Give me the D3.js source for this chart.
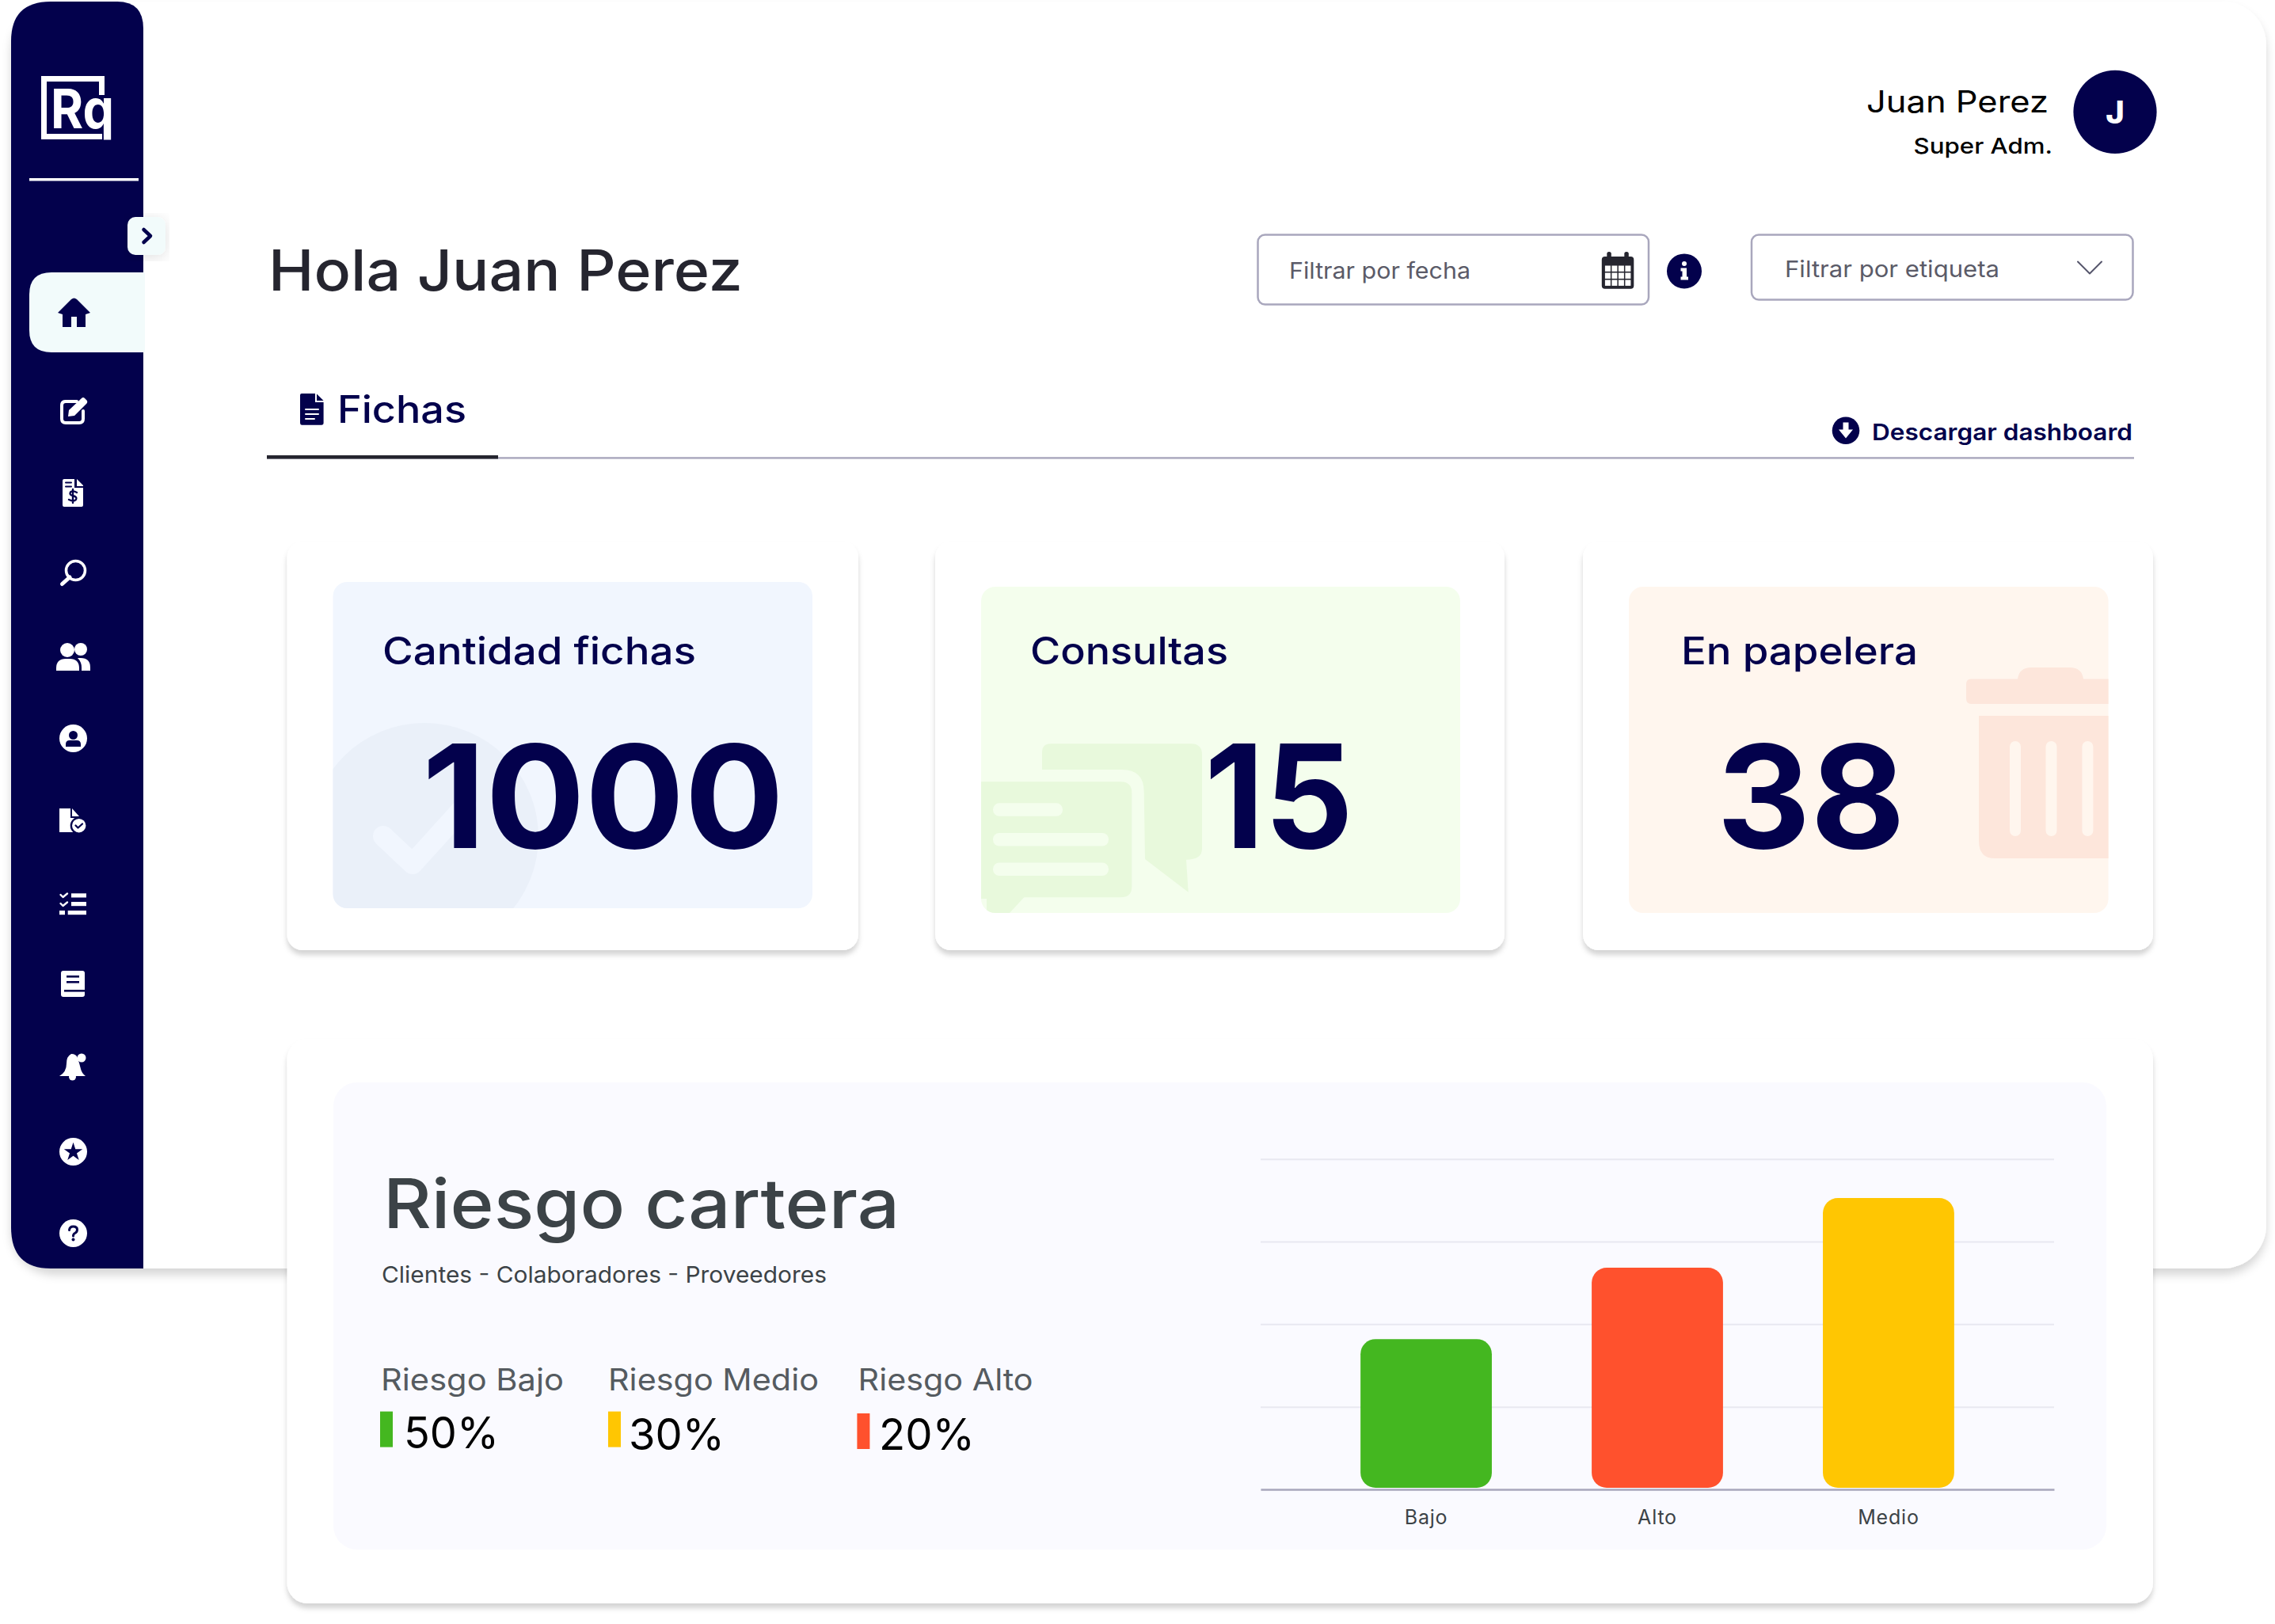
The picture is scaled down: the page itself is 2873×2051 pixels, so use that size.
<!DOCTYPE html>
<html>
<head>
<meta charset="utf-8">
<title>Dashboard</title>
<script src="https://cdn.jsdelivr.net/npm/d3@7"></script>
<style>
  html, body { margin: 0; padding: 0; background: #fff; }
  svg { display: block; }
  text { font-family: Inter, "Noto Sans", sans-serif; }
</style>
</head>
<body>
<div id="dashboard"></div>
<script>
var riskCategories = ["Bajo", "Alto", "Medio"];
var riskValues = [45.5, 67.1, 88.2];
var riskTicks = [0, 25, 50, 75, 100];
var riskColors = ["#44b720", "#ff512d", "#ffc602"];

var legendCategories = ["Bajo", "Medio", "Alto"];
var legendShares = [50, 30, 20];

var kpiLabels = ["Cantidad fichas", "Consultas", "En papelera"];
var kpiValues = [1000, 15, 38];

var navy = "#03014c", line = "#a9a7bd", slate = "#3c4347";

var svg = d3.select("#dashboard").append("svg")
    .attr("width", 2873)
    .attr("height", 2051);

var defs = svg.append("defs");

function shadow(id, dy, blur, alpha) {
    var f = defs.append("filter").attr("id", id)
        .attr("x", "-10%").attr("y", "-10%").attr("width", "120%").attr("height", "125%");
    f.append("feDropShadow")
        .attr("dx", 0).attr("dy", dy).attr("stdDeviation", blur)
        .attr("flood-color", "#000").attr("flood-opacity", alpha);
}
shadow("panelShadow", 8, 6, 0.16);
shadow("cardShadow", 6, 3, 0.17);
shadow("toggleShadow", 3, 9, 0.12);

// text helper: size from cap height, width fitted to the reference
function label(parent, str, x, y, size, weight, color, width) {
    var t = parent.append("text").text(str)
        .attr("x", x).attr("y", y)
        .attr("font-size", size).attr("font-weight", weight)
        .attr("fill", color);
    if (width) t.attr("textLength", width).attr("lengthAdjust", "spacingAndGlyphs");
    return t;
}

function shape(parent, d, fill) {
    return parent.append("path").attr("d", d).attr("fill", fill);
}

function stroke(parent, d, color, w) {
    return parent.append("path").attr("d", d).attr("fill", "none")
        .attr("stroke", color).attr("stroke-width", w)
        .attr("stroke-linecap", "round").attr("stroke-linejoin", "round");
}

// main panel
svg.append("rect")
    .attr("x", 14).attr("y", 2).attr("width", 2848).attr("height", 1600)
    .attr("rx", 55).attr("fill", "#fff")
    .attr("filter", "url(#panelShadow)");

// sidebar
var side = svg.append("g");
shape(side, "M14 52 Q14 2 64 2 H148 Q181 2 181 36 V1602 H64 Q14 1602 14 1550 Z", navy);

// logo
stroke(side, "M129 172.5 H55.5 V99.5 H128.5 V120", "#fff", 7)
    .attr("stroke-linecap", "butt").attr("stroke-linejoin", "miter");
label(side, "Rq", 64, 161.6, 69, 700, "#fff", 80);

side.append("rect").attr("x", 37).attr("y", 225).attr("width", 138).attr("height", 3.5).attr("fill", "#fff");

// active tab and toggle
shape(side, "M183 344 H65 Q37 344 37 372 V417 Q37 445 65 445 H183 Z", "#f2fbfb");
side.append("rect")
    .attr("x", 161).attr("y", 274).attr("width", 48).attr("height", 48).attr("rx", 10)
    .attr("fill", "#f2fbfb").attr("filter", "url(#toggleShadow)");
stroke(side, "M181.5 290 L190 298 L181.5 306", navy, 4.5);

// nav icons
shape(side, "M73 395 L90 378 Q93.5 375 97 378 L114 395 L108 397 V413 H97 V400 H90 V413 H79 V397 Z", navy);

stroke(side, "M97 507 H83 Q78 507 78 512 V529 Q78 534 83 534 H100 Q105 534 105 529 V519", "#fff", 4);
shape(side, "M86 526 L87 518 L103 503 Q105 501 107 503 L109.5 505.5 Q111 507.5 109.5 509.5 L94 525 Z", "#fff");

shape(side, "M81 605 H94 V616 H105 V638 Q105 640 103 640 H81 Q79 640 79 638 V607 Q79 605 81 605 Z", "#fff");
shape(side, "M97 605 L105 613 V614 H97 Z", "#fff");
stroke(side, "M83 609.5 H90 M83 614.5 H90", navy, 2);
stroke(side, "M97 622 Q92 619 89 621.5 Q87 625 92 626 Q98 627.5 96 631 Q93 634 87 631 M92 618 V635", navy, 2.4);

stroke(side, "M88 729 L78.5 737.5", "#fff", 5);
side.append("circle").attr("cx", 95.5).attr("cy", 720.5).attr("r", 12)
    .attr("fill", "none").attr("stroke", "#fff").attr("stroke-width", 3.5);

side.append("circle").attr("cx", 85).attr("cy", 821).attr("r", 9).attr("fill", "#fff");
side.append("circle").attr("cx", 102).attr("cy", 820).attr("r", 8).attr("fill", "#fff");
shape(side, "M71 847 V844 Q71 832 83 832 H88 Q100 832 100 844 V847 Z", "#fff");
shape(side, "M103 847 V843 Q103 836 98 831 H102 Q114 831 114 843 V847 Z", "#fff");

// profile
side.append("circle").attr("cx", 92.5).attr("cy", 932.5).attr("r", 17.5).attr("fill", "#fff");
side.append("circle").attr("cx", 92.5).attr("cy", 928.5).attr("r", 5.5).attr("fill", navy);
shape(side, "M83 943 V940 Q83 935 88 935 H97 Q102 935 102 940 V943 Z", navy);

// file with check
shape(side, "M75 1021 H89 V1033 H97 V1051 H75 Z", "#fff");
shape(side, "M91 1021 L100 1031 H91 Z", "#fff");
side.append("circle").attr("cx", 99.7).attr("cy", 1042.7).attr("r", 11).attr("fill", navy);
side.append("circle").attr("cx", 99.7).attr("cy", 1042.7).attr("r", 8.7).attr("fill", "#fff");
stroke(side, "M95.5 1042.5 L98.5 1045.5 L104 1040.5", navy, 2.3);

// checklist
stroke(side, "M76.5 1130 L79.5 1133 L85 1128.5 M76.5 1141 L79.5 1144 L85 1139.5", "#fff", 2.4);
side.append("rect").attr("x", 90).attr("y", 1128.3).attr("width", 19).attr("height", 5.2).attr("fill", "#fff");
side.append("rect").attr("x", 90).attr("y", 1139).attr("width", 19).attr("height", 5.2).attr("fill", "#fff");
side.append("rect").attr("x", 85.7).attr("y", 1150).attr("width", 23.3).attr("height", 5.2).attr("fill", "#fff");
side.append("rect").attr("x", 75).attr("y", 1150).attr("width", 7).attr("height", 5.2).attr("fill", "#fff");

// book
side.append("rect").attr("x", 77).attr("y", 1226).attr("width", 30).attr("height", 33).attr("rx", 3).attr("fill", "#fff");
side.append("rect").attr("x", 84).attr("y", 1232).attr("width", 16).attr("height", 2.6).attr("fill", navy);
side.append("rect").attr("x", 84).attr("y", 1239).attr("width", 16).attr("height", 2.6).attr("fill", navy);
side.append("rect").attr("x", 81).attr("y", 1250).attr("width", 26).attr("height", 2.6).attr("fill", navy);

// bell
shape(side, "M75 1359 Q84 1354 84 1343 Q84 1334 90 1331 Q96 1331 98 1336 Q100 1342 102 1350 Q103 1355 108 1359 Z", "#fff");
side.append("circle").attr("cx", 91.5).attr("cy", 1360).attr("r", 4.5).attr("fill", "#fff");
side.append("circle").attr("cx", 103).attr("cy", 1336).attr("r", 5.5).attr("fill", "#fff");

// star
side.append("circle").attr("cx", 92.5).attr("cy", 1454.5).attr("r", 17.5).attr("fill", "#fff");
side.append("path")
    .attr("d", d3.symbol(d3.symbolStar, 170))
    .attr("transform", "translate(92.5,1455)")
    .attr("fill", navy);

// help
side.append("circle").attr("cx", 92.5).attr("cy", 1557.5).attr("r", 17.5).attr("fill", "#fff");
stroke(side, "M87.5 1553.5 Q88 1549 92.5 1549 Q97.5 1549 97.5 1553 Q97.5 1556 94.5 1557.5 Q92.5 1558.5 92.5 1561", navy, 3);
side.append("circle").attr("cx", 92.5).attr("cy", 1565.5).attr("r", 2).attr("fill", navy);

// user block
var head = svg.append("g");
label(head, "Juan Perez", 2357, 142, 38.5, 400, "#000", 230);
label(head, "Super Adm.", 2416.5, 193.6, 27.5, 500, "#000", 175.5);
head.append("circle").attr("cx", 2671).attr("cy", 141.3).attr("r", 52.6).attr("fill", navy);
label(head, "J", 2671, 156.4, 40, 800, "#fff").attr("text-anchor", "middle");

label(head, "Hola Juan Perez", 339, 366.7, 71, 500, "#25252f", 599);

// filters
head.append("rect").attr("x", 1588.5).attr("y", 296.5).attr("width", 493.5).attr("height", 88).attr("rx", 9)
    .attr("fill", "#fff").attr("stroke", line).attr("stroke-width", 2.5);
label(head, "Filtrar por fecha", 1628, 352, 29, 400, "#5b5b68", 229);

// calendar
head.append("rect").attr("x", 2022.8).attr("y", 324).attr("width", 40.5).attr("height", 40.8).attr("rx", 4).attr("fill", "#25252f");
head.append("rect").attr("x", 2029.3).attr("y", 318).attr("width", 5.5).attr("height", 12).attr("rx", 2.5).attr("fill", "#25252f");
head.append("rect").attr("x", 2051.3).attr("y", 318).attr("width", 5.5).attr("height", 12).attr("rx", 2.5).attr("fill", "#25252f");
d3.range(3).forEach(function(r) {
    d3.range(4).forEach(function(c) {
        head.append("rect")
            .attr("x", 2026.9 + c * 8.5).attr("y", 335.5 + r * 9)
            .attr("width", 7).attr("height", 7.4)
            .attr("fill", "#fff");
    });
});

// info dot
head.append("circle").attr("cx", 2127).attr("cy", 342.4).attr("r", 22).attr("fill", navy);
head.append("circle").attr("cx", 2127).attr("cy", 333).attr("r", 3).attr("fill", "#fff");
shape(head, "M2122.5 338.5 H2130 V349.5 H2132 V353.5 H2122.5 V349.5 H2124.5 V342.5 H2122.5 Z", "#fff");

head.append("rect").attr("x", 2212).attr("y", 296.5).attr("width", 481.5).attr("height", 82).attr("rx", 9)
    .attr("fill", "#fff").attr("stroke", line).attr("stroke-width", 2.5);
label(head, "Filtrar por etiqueta", 2254, 350, 29, 400, "#5b5b68", 271);
stroke(head, "M2624 330.5 L2639 345.5 L2654 330.5", "#55556b", 2);

// tab
shape(head, "M381 497 H398 V508 H408.6 V534 Q408.6 536.7 406 536.7 H381 Q379 536.7 379 534 V499 Q379 497 381 497 Z", navy);
shape(head, "M400 497.5 L408.6 506 H400 Z", navy);
stroke(head, "M386 517 H402 M386 523 H402 M386 529 H397", "#fff", 2);
label(head, "Fichas", 426, 534, 47.7, 500, navy, 163);
head.append("rect").attr("x", 337).attr("y", 577.2).attr("width", 2358).attr("height", 2.4).attr("fill", line);
head.append("rect").attr("x", 337).attr("y", 575).attr("width", 292).attr("height", 4.5).attr("fill", "#25252f");

// download
head.append("circle").attr("cx", 2331).attr("cy", 543.8).attr("r", 17.3).attr("fill", navy);
shape(head, "M2327.5 533.5 H2334.5 V542.5 H2340 L2331 553.5 L2322 542.5 H2327.5 Z", "#fff");
label(head, "Descargar dashboard", 2364, 555.9, 29, 600, navy, 329);

// kpi cards
var kpiLayout = [
    {card: [362.5, 721.5], box: [420.5, 735, 605.5, 412], title: [483, 396], num: [533, 457]},
    {card: [1181, 719], box: [1239, 741, 605, 412], title: [1301, 250], num: [1521, 188]},
    {card: [1999, 720], box: [2057, 741, 605.6, 412], title: [2123, 299], num: [2168, 238]}
];
var kpiFills = ["#f1f6fe", "#f4feed", "#fff6ee"];
var kpiArt = ["#eaf0f9", "#e8f9dc", "#fde6db"];

var cards = svg.selectAll(".kpi").data(kpiLabels).enter()
    .append("g").attr("class", "kpi");

cards.append("rect")
    .attr("x", function(d, i) { return kpiLayout[i].card[0]; })
    .attr("width", function(d, i) { return kpiLayout[i].card[1]; })
    .attr("y", 684).attr("height", 516).attr("rx", 20)
    .attr("fill", "#fff").attr("filter", "url(#cardShadow)");

cards.append("rect")
    .attr("x", function(d, i) { return kpiLayout[i].box[0]; })
    .attr("y", function(d, i) { return kpiLayout[i].box[1]; })
    .attr("width", function(d, i) { return kpiLayout[i].box[2]; })
    .attr("height", function(d, i) { return kpiLayout[i].box[3]; })
    .attr("rx", 18)
    .attr("fill", function(d, i) { return kpiFills[i]; });

kpiLayout.forEach(function(k, i) {
    defs.append("clipPath").attr("id", "kpiClip" + i).append("rect")
        .attr("x", k.box[0]).attr("y", k.box[1])
        .attr("width", k.box[2]).attr("height", k.box[3]).attr("rx", 18);
});

// card background art
var art1 = svg.append("g").attr("clip-path", "url(#kpiClip0)");
art1.append("circle").attr("cx", 536).attr("cy", 1057).attr("r", 144).attr("fill", kpiArt[0]);
stroke(art1, "M484 1056 L521 1091 L589 1016", kpiFills[0], 26);

var art2 = svg.append("g").attr("clip-path", "url(#kpiClip1)");
shape(art2, "M1327 939.3 H1504 Q1518 939.3 1518 953 V1072 Q1518 1085.7 1498 1085.7 L1500.7 1126.7 L1446 1085 L1444.7 1000 Q1444.7 972 1416.7 972 H1316 V950 Q1316 939.3 1327 939.3 Z", kpiArt[1]);
shape(art2, "M1239 987.3 H1415 Q1429.3 987.3 1429.3 1001 V1120 Q1429.3 1133.3 1415 1133.3 H1293.3 L1275 1153 H1246 V1135 H1239 Z", kpiArt[1]);
[[1254, 1342, 1014.3], [1254, 1400, 1052], [1254, 1400, 1089.5]].forEach(function(b) {
    art2.append("rect")
        .attr("x", b[0]).attr("y", b[2])
        .attr("width", b[1] - b[0]).attr("height", 16.5).attr("rx", 8)
        .attr("fill", kpiFills[1]);
});

var art3 = svg.append("g").attr("clip-path", "url(#kpiClip2)");
shape(art3, "M2489 857.5 H2548 Q2550 843 2565 843 H2614 Q2629 843 2631 857.5 H2680 V889 H2489 Q2483 889 2483 882 V864 Q2483 857.5 2489 857.5 Z", kpiArt[2]);
shape(art3, "M2499 904 H2680 V1084 H2519 Q2499 1084 2499 1062 Z", kpiArt[2]);
[2538, 2583.5, 2629.4].forEach(function(x) {
    art3.append("rect")
        .attr("x", x).attr("y", 936).attr("width", 14).attr("height", 120).attr("rx", 7)
        .attr("fill", kpiFills[2]);
});

kpiLabels.forEach(function(name, i) {
    var k = kpiLayout[i];
    label(svg, name, k.title[0], 838.6, 47.6, 500, navy, k.title[1]);
    label(svg, String(kpiValues[i]), k.num[0], 1070.7, 181, 700, navy, k.num[1]);
});

// riesgo card
svg.append("rect")
    .attr("x", 362.5).attr("y", 1312).attr("width", 2356.5).attr("height", 713).attr("rx", 26)
    .attr("fill", "#fff").attr("filter", "url(#cardShadow)");
svg.append("rect")
    .attr("x", 421).attr("y", 1367).attr("width", 2239).attr("height", 590).attr("rx", 30)
    .attr("fill", "#fafaff");

label(svg, "Riesgo cartera", 484, 1550.9, 87, 500, slate, 652);
label(svg, "Clientes - Colaboradores - Proveedores", 482, 1619.7, 29, 400, slate, 562);

// legend
var color = d3.scaleOrdinal().domain(riskCategories).range(riskColors);
var legendLayout = [
    {x: 481, w: 231, swatch: 480, swatchY: 1782.6, pct: 510, pctW: 120, base: 1829},
    {x: 768, w: 266, swatch: 768, swatchY: 1782.6, pct: 794, pctW: 121, base: 1830.5},
    {x: 1083.6, w: 221, swatch: 1082.4, swatchY: 1785, pct: 1110, pctW: 121, base: 1830.5}
];

legendCategories.forEach(function(cat, i) {
    var l = legendLayout[i];
    label(svg, "Riesgo " + cat, l.x, 1755.7, 38.5, 400, "#555b60", l.w);
    svg.append("rect")
        .attr("x", l.swatch).attr("y", l.swatchY).attr("width", 16).attr("height", 45)
        .attr("fill", color(cat));
    label(svg, legendShares[i] + "%", l.pct, l.base, 55, 400, "#000", l.pctW);
});

// bar chart
function histogram(id) {
    var hgDim = {l: 1592, t: 1463.7, w: 1002, h: 417.3};
    var hg = svg.append("g").attr("id", id)
        .attr("transform", "translate(" + hgDim.l + "," + hgDim.t + ")");

    var x = d3.scaleBand().range([0, hgDim.w]).domain(riskCategories).padding(0.432);
    var y = d3.scaleLinear().range([hgDim.h, 0]).domain([0, 100]);

    // grid lines
    var grid = hg.append("g")
        .call(d3.axisLeft(y).tickValues(riskTicks).tickSize(-hgDim.w).tickFormat(""));
    grid.select(".domain").remove();
    grid.selectAll("line").attr("stroke", "#e8e8f1").attr("stroke-width", 2);

    hg.selectAll(".bar").data(riskValues).enter()
        .append("rect").attr("class", "bar")
        .attr("x", function(d, i) { return x(riskCategories[i]); })
        .attr("y", function(d) { return y(d); })
        .attr("width", x.bandwidth())
        .attr("height", function(d) { return hgDim.h - y(d) - 2; })
        .attr("rx", 19)
        .attr("fill", function(d, i) { return color(riskCategories[i]); });

    var axis = hg.append("g")
        .attr("transform", "translate(0," + hgDim.h + ")")
        .call(d3.axisBottom(x).tickSize(0).tickPadding(26));
    axis.select(".domain").attr("stroke", line).attr("stroke-width", 2.5);
    axis.selectAll("text")
        .attr("font-size", 25)
        .attr("font-family", "Inter")
        .attr("letter-spacing", 0.8)
        .attr("fill", slate);
}
histogram("riesgo");
</script>
</body>
</html>
